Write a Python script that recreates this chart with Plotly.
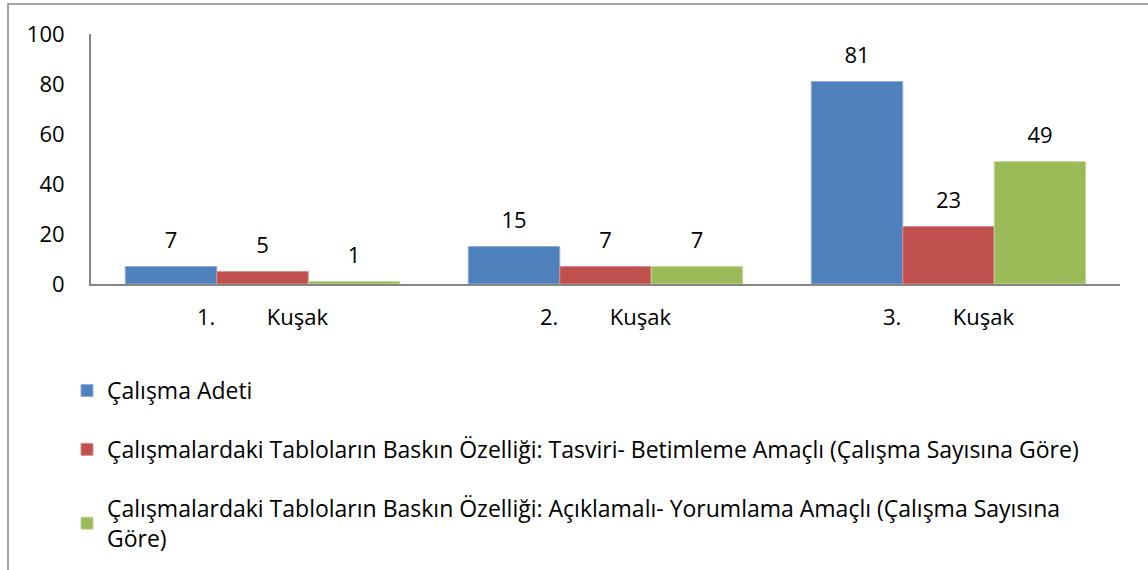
import plotly.graph_objects as go

NB = "\u00a0" * 9
categories = [f"1.{NB}Kuşak", f"2.{NB}Kuşak", f"3.{NB}Kuşak"]
series_names = [
    "Çalışma Adeti",
    "Çalışmalardaki Tabloların Baskın Özelliği: Tasviri- Betimleme Amaçlı (Çalışma Sayısına Göre)",
    "Çalışmalardaki Tabloların Baskın Özelliği: Açıklamalı- Yorumlama Amaçlı (Çalışma Sayısına<br>Göre)",
]
calisma_adeti = [7, 15, 81]
tasviri = [5, 7, 23]
aciklamali = [1, 7, 49]
colors = ["#4F81BD", "#C0504D", "#9BBB59"]
edge_colors = ["#8FAEDB", "#D88E8C", "#C3D89C"]
y_ticks = [0, 20, 40, 60, 80, 100]

FONT = "Open Sans, Lato, sans-serif"

fig = go.Figure()
all_series = [calisma_adeti, tasviri, aciklamali]
for i, (name, vals) in enumerate(zip(series_names, all_series)):
    fig.add_trace(go.Bar(
        x=categories, y=vals, name=name,
        marker=dict(color=colors[i], line=dict(color=edge_colors[i], width=1)),
        legendgroup=f"g{i}", offsetgroup=f"o{i}", hoverinfo="x+y",
    ))
# data labels, grouped like the bars
for i, vals in enumerate(all_series):
    fig.add_trace(go.Scatter(
        x=categories, y=vals, mode="markers+text", text=[str(v) for v in vals],
        textposition="top center", offsetgroup=f"o{i}",
        marker=dict(size=19, opacity=0, color=colors[i]),
        textfont=dict(size=22, color="#000000", family=FONT),
        cliponaxis=False, showlegend=False, hoverinfo="skip",
    ))

W, H = 1148, 570
L, R, T, B = 91, 28, 34, 286
pw, ph = W - L - R, H - T - B

fig.update_layout(
    width=W, height=H,
    margin=dict(l=L, r=R, t=T, b=B, pad=0, autoexpand=False),
    paper_bgcolor="white", plot_bgcolor="white",
    barmode="group", bargap=0.2, bargroupgap=0,
    scattermode="group", scattergap=0.2,
    font=dict(family=FONT, size=22, color="#000000"),
    showlegend=True,
    legend=dict(
        x=(67 - L) / pw, y=-(369 - (H - B)) / ph,
        xanchor="left", yanchor="top",
        traceorder="grouped", tracegroupgap=26,
        font=dict(size=23, family=FONT, color="#000000"),
        bgcolor="rgba(0,0,0,0)", itemclick=False,
    ),
    xaxis=dict(
        showline=True, linecolor="#868686", linewidth=2,
        showgrid=False, ticks="", ticklabelstandoff=13,
        tickfont=dict(size=22, family=FONT), automargin=False,
    ),
    yaxis=dict(
        range=[0, 100], tickvals=y_ticks, showline=True, linecolor="#868686",
        linewidth=2, showgrid=False, ticks="", ticklabelstandoff=20,
        tickfont=dict(size=22, family=FONT), zeroline=False, automargin=False,
    ),
    shapes=[dict(
        type="rect", xref="paper", yref="paper",
        x0=(8 - L) / pw, x1=1 + 60 / pw,
        y0=-(B + 60) / ph, y1=1 + (T - 4) / ph,
        line=dict(color="#868686", width=1.5), fillcolor="rgba(0,0,0,0)", layer="below",
    )],
)

fig.write_html(
    "out.html",
    config={"displayModeBar": False},
    post_script="document.body.style.margin='0';document.body.style.overflow='hidden';",
)
